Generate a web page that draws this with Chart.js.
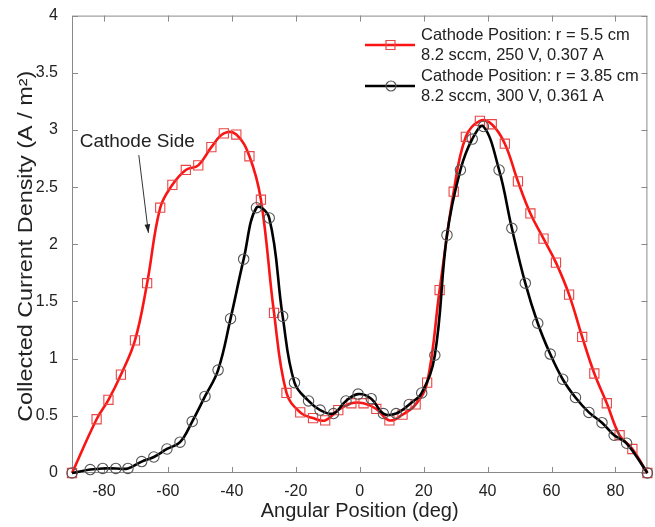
<!DOCTYPE html>
<html><head><meta charset="utf-8">
<script src="https://cdn.jsdelivr.net/npm/chart.js@4"></script>
<style>html,body{margin:0;padding:0;background:#fff}#wrap{width:655px;height:527px}canvas{display:block}</style>
</head><body>
<div id="wrap"><canvas id="c" width="655" height="527"></canvas></div>
<script>
// ---- data ----
const redX = [-90, -82.3, -78.6, -74.7, -70.3, -66.5, -62.4, -58.6, -54.4, -50.5, -46.4, -42.5, -38.6, -34.5, -30.9, -26.8, -22.9, -18.6, -14.6, -10.8, -6.7, -2.6, 1.2, 5.2, 9.3, 13.4, 17.5, 21.1, 25.0, 29.4, 33.2, 37.6, 41.3, 45.4, 49.5, 53.4, 57.5, 61.4, 65.5, 69.6, 73.4, 77.3, 81.3, 85.3, 90];
const redY = [0, 0.47, 0.64, 0.86, 1.16, 1.66, 2.32, 2.52, 2.65, 2.69, 2.85, 2.97, 2.96, 2.77, 2.39, 1.40, 0.70, 0.53, 0.48, 0.46, 0.55, 0.61, 0.61, 0.56, 0.46, 0.51, 0.60, 0.79, 1.60, 2.46, 2.94, 3.08, 3.05, 2.88, 2.55, 2.27, 2.05, 1.84, 1.56, 1.19, 0.87, 0.61, 0.33, 0.21, 0];
const blackX = [-90, -84.3, -80.4, -76.3, -72.5, -68.2, -64.4, -60.3, -56.2, -52.4, -48.4, -44.3, -40.4, -36.3, -32.3, -28.3, -24.1, -20.4, -16.0, -12.4, -8.2, -4.3, -0.5, 3.6, 7.4, 11.4, 15.5, 19.4, 23.5, 27.3, 31.5, 35.2, 38.7, 43.6, 47.6, 51.8, 55.7, 59.6, 63.5, 67.5, 71.7, 75.8, 79.6, 83.5, 90];
const blackY = [0.0, 0.03, 0.04, 0.04, 0.04, 0.10, 0.14, 0.21, 0.27, 0.45, 0.67, 0.90, 1.35, 1.87, 2.32, 2.23, 1.37, 0.79, 0.63, 0.55, 0.52, 0.63, 0.69, 0.65, 0.52, 0.52, 0.60, 0.70, 1.03, 2.08, 2.65, 2.92, 3.03, 2.65, 2.14, 1.66, 1.31, 1.04, 0.82, 0.66, 0.53, 0.44, 0.33, 0.26, 0];
const xTicks = [-80, -60, -40, -20, 0, 20, 40, 60, 80];
const yTicks = [0, 0.5, 1, 1.5, 2, 2.5, 3, 3.5, 4];
const redLabel = ["Cathode Position: r = 5.5 cm", "8.2 sccm, 250 V, 0.307 A"];
const blackLabel = ["Cathode Position: r = 3.85 cm", "8.2 sccm, 300 V, 0.361 A"];
const xTitle = "Angular Position (deg)";
const yTitle = "Collected Current Density (A / m\u00B2)";
const noteText = "Cathode Side";
const noteTextAt = [-87.6, 2.90];
const noteArrowFrom = [-69.1, 2.78];
const noteArrowTo = [-66.1, 2.10];

const FONT = "'Liberation Sans', Arial, Helvetica, sans-serif";
const RED = 'rgb(250,20,20)', RED_MK = 'rgb(232,70,70)';
const BLK = '#000', BLK_MK = 'rgb(85,85,85)';
const AXIS = '#8a8a8a';
const TXT = '#222';

function pts(xs, ys) { return xs.map((v, i) => ({x: v, y: ys[i]})); }

const framePlugin = {
  id: 'frame',
  beforeDatasetsDraw(chart) {
    const {ctx, chartArea: a, scales: {x, y}} = chart;
    ctx.save();
    ctx.strokeStyle = AXIS; ctx.lineWidth = 1;
    ctx.strokeRect(a.left + 0.5, a.top + 0.5, a.right - a.left - 1, a.bottom - a.top - 1);
    ctx.beginPath();
    const L = 6;
    xTicks.forEach(v => {
      const px = Math.round(x.getPixelForValue(v)) + 0.5;
      ctx.moveTo(px, a.bottom); ctx.lineTo(px, a.bottom - L);
      ctx.moveTo(px, a.top); ctx.lineTo(px, a.top + L);
    });
    yTicks.forEach(v => {
      const py = Math.round(y.getPixelForValue(v)) + 0.5;
      ctx.moveTo(a.left, py); ctx.lineTo(a.left + L, py);
      ctx.moveTo(a.right, py); ctx.lineTo(a.right - L, py);
    });
    ctx.stroke();
    ctx.restore();
  },
  afterDraw(chart) {
    const {ctx, chartArea: a, scales: {x, y}} = chart;
    ctx.save();
    // y-axis title (centred on the axis, slightly stretched along its length)
    ctx.save();
    ctx.translate(27, (a.top + a.bottom) / 2 + 2);
    ctx.rotate(-Math.PI / 2);
    ctx.scale(1.2, 1);
    ctx.font = '19.5px ' + FONT;
    ctx.fillStyle = TXT; ctx.textAlign = 'center'; ctx.textBaseline = 'middle';
    ctx.fillText(yTitle, 0, 0);
    ctx.restore();
    // annotation
    ctx.fillStyle = TXT;
    ctx.font = '19px ' + FONT;
    ctx.textBaseline = 'middle'; ctx.textAlign = 'left';
    ctx.fillText(noteText, x.getPixelForValue(noteTextAt[0]), y.getPixelForValue(noteTextAt[1]));
    const x0 = x.getPixelForValue(noteArrowFrom[0]), y0 = y.getPixelForValue(noteArrowFrom[1]);
    const x1 = x.getPixelForValue(noteArrowTo[0]), y1 = y.getPixelForValue(noteArrowTo[1]);
    ctx.strokeStyle = '#333'; ctx.lineWidth = 1;
    ctx.beginPath(); ctx.moveTo(x0, y0); ctx.lineTo(x1, y1); ctx.stroke();
    const ang = Math.atan2(y1 - y0, x1 - x0), hl = 9, hw = 0.32;
    ctx.fillStyle = TXT;
    ctx.beginPath();
    ctx.moveTo(x1, y1);
    ctx.lineTo(x1 - hl * Math.cos(ang - hw), y1 - hl * Math.sin(ang - hw));
    ctx.lineTo(x1 - hl * Math.cos(ang + hw), y1 - hl * Math.sin(ang + hw));
    ctx.closePath(); ctx.fill();
    // legend
    ctx.font = '16.5px ' + FONT;
    const entries = [
      {lab: redLabel, col: RED, mk: RED_MK, shape: 'rect', yc: 45},
      {lab: blackLabel, col: BLK, mk: BLK_MK, shape: 'circle', yc: 86}
    ];
    entries.forEach(e => {
      ctx.strokeStyle = e.col; ctx.lineWidth = 2.5;
      ctx.beginPath(); ctx.moveTo(365, e.yc); ctx.lineTo(415, e.yc); ctx.stroke();
      ctx.strokeStyle = e.mk; ctx.lineWidth = 1.2;
      ctx.beginPath();
      if (e.shape === 'rect') ctx.rect(386, e.yc - 4.5, 9, 9);
      else ctx.arc(391, e.yc, 5, 0, Math.PI * 2);
      ctx.stroke();
      ctx.fillStyle = TXT;
      ctx.fillText(e.lab[0], 421, e.yc - 10);
      ctx.fillText(e.lab[1], 421, e.yc + 10);
    });
    ctx.restore();
  }
};

new Chart(document.getElementById('c'), {
  type: 'line',
  data: {
    datasets: [
      {label: redLabel.join(' '), data: pts(redX, redY), borderColor: RED, borderWidth: 2.6,
       pointStyle: 'rect', pointRadius: 6.5, pointBorderColor: RED_MK, pointBackgroundColor: 'rgba(0,0,0,0)',
       pointBorderWidth: 1.1, tension: 0.4, clip: false, order: 1, fill: false},
      {label: blackLabel.join(' '), data: pts(blackX, blackY), borderColor: BLK, borderWidth: 2.6,
       pointStyle: 'circle', pointRadius: 5.2, pointBorderColor: BLK_MK, pointBackgroundColor: 'rgba(0,0,0,0)',
       pointBorderWidth: 1.1, tension: 0.4, clip: false, order: 0, fill: false}
    ]
  },
  options: {
    responsive: false, animation: false, devicePixelRatio: 1,
    layout: {padding: {top: 13, right: 1, left: 0, bottom: 0}},
    plugins: {legend: {display: false}, tooltip: {enabled: false}},
    scales: {
      x: {type: 'linear', min: -90, max: 90,
          afterBuildTicks: s => { s.ticks = xTicks.map(v => ({value: v})); },
          afterFit: s => { s.height = 54; },
          grid: {display: false}, border: {display: false},
          ticks: {color: TXT, font: {family: FONT, size: 16}, padding: 1, maxRotation: 0, callback: v => String(v)},
          title: {display: true, text: xTitle, color: TXT, font: {family: FONT, size: 20}, padding: {top: 0, bottom: 4}}},
      y: {type: 'linear', min: 0, max: 4,
          afterBuildTicks: s => { s.ticks = yTicks.map(v => ({value: v})); },
          afterFit: s => { s.width = 72; },
          grid: {display: false}, border: {display: false},
          ticks: {color: TXT, font: {family: FONT, size: 16}, padding: 6, callback: v => String(v)},
          title: {display: false}}
    }
  },
  plugins: [framePlugin]
});
</script>
</body></html>
